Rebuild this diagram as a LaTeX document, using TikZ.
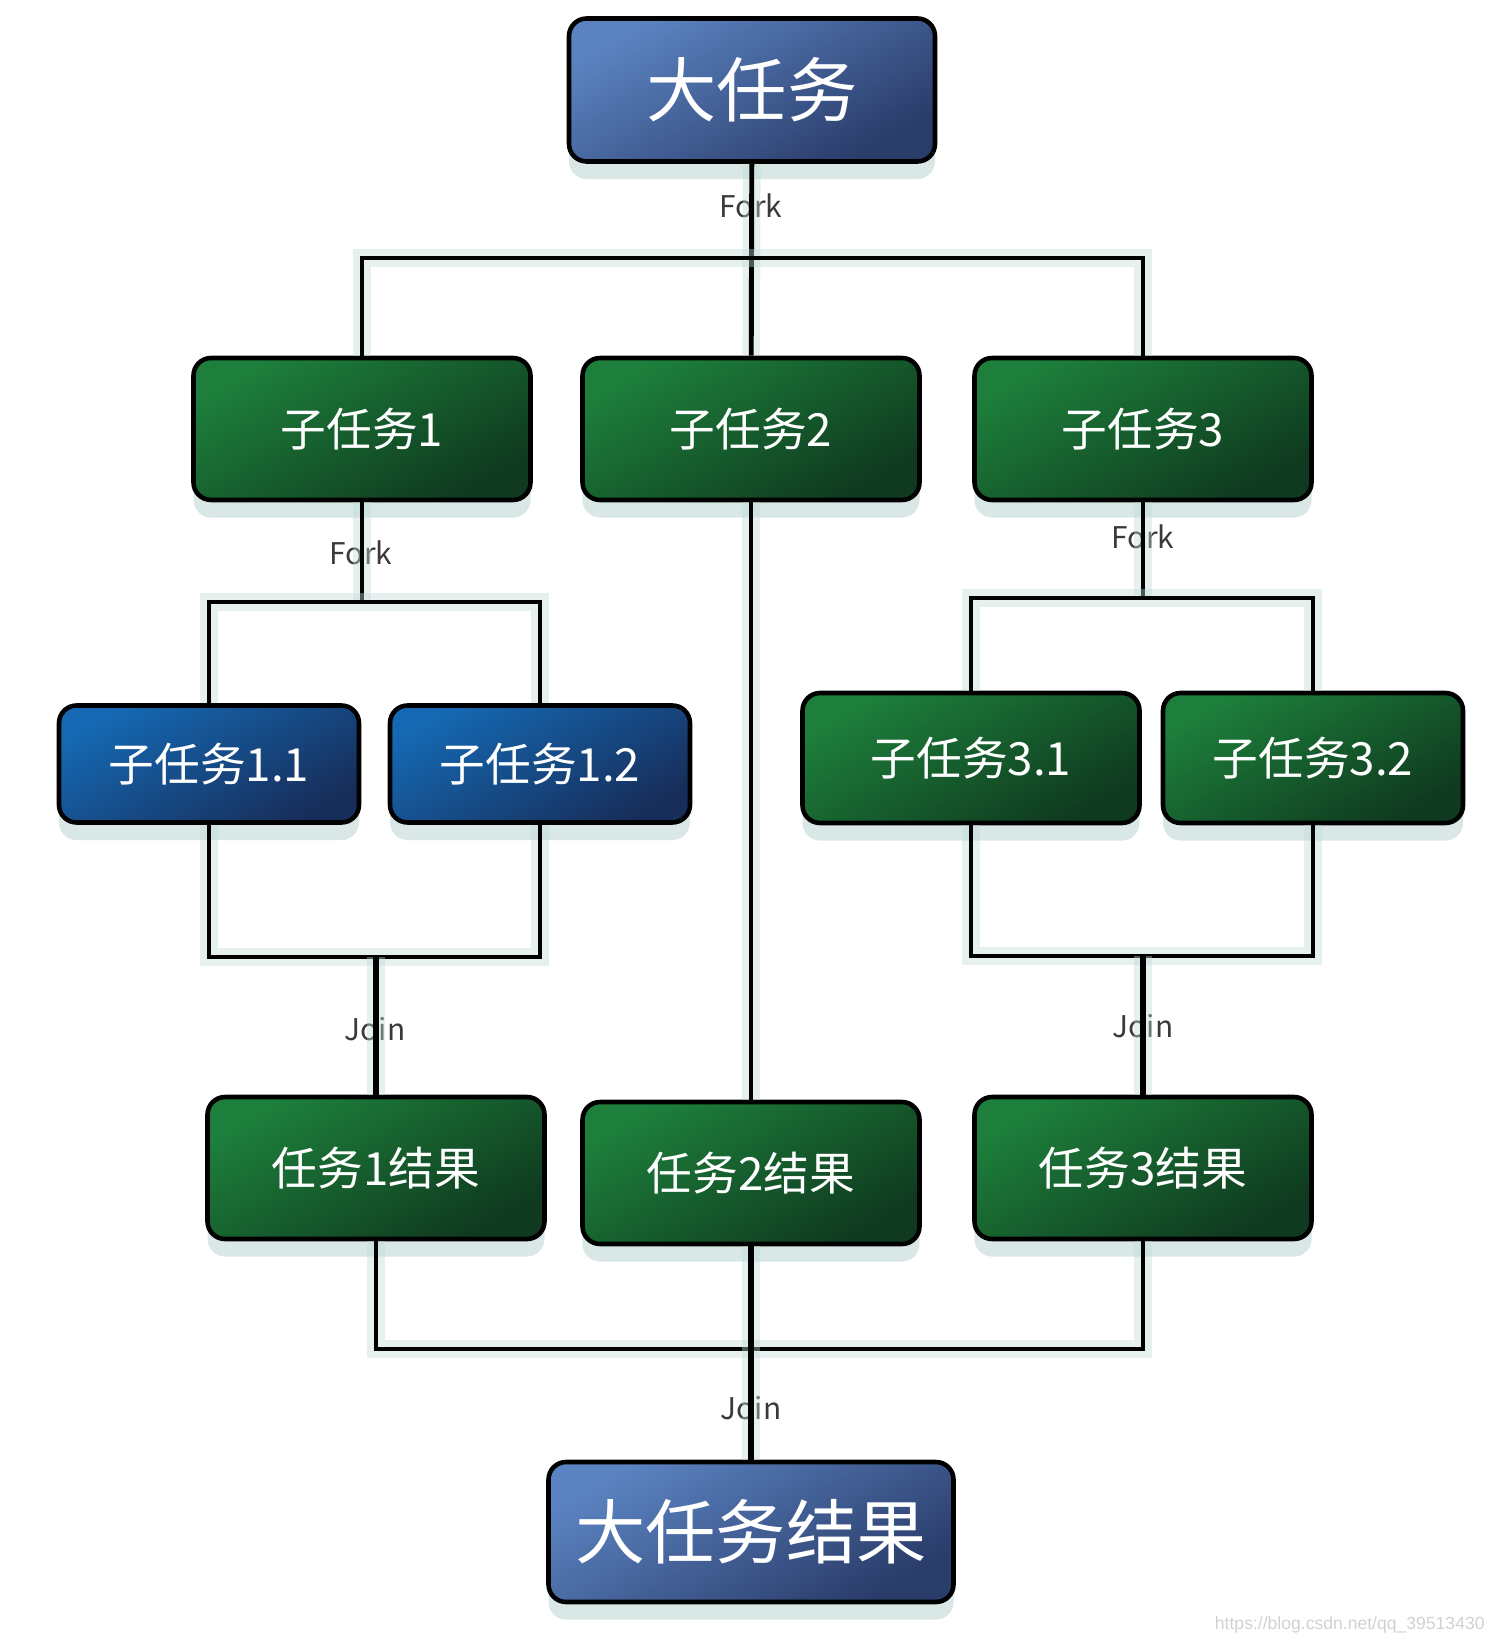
\documentclass[tikz,border=0pt]{standalone}
\usepackage{fontspec}
\setmainfont{Noto Sans CJK SC}
\newfontfamily\markfont{Liberation Sans}
\usepackage{xcolor}
\usepackage{tikz}
\usetikzlibrary{positioning,calc,shadows}
\definecolor{bigtop}{HTML}{5B83C1}
\definecolor{bigbot}{HTML}{2A3C6A}
\definecolor{subtop}{HTML}{1D7F3B}
\definecolor{subbot}{HTML}{0F3A1F}
\definecolor{deeptop}{HTML}{1568B2}
\definecolor{deepbot}{HTML}{172E5B}
\definecolor{glow}{HTML}{BFD9D6}
\definecolor{labelgray}{HTML}{3A3A3A}

\begin{document}
\begin{tikzpicture}[
  x=0.1mm, y=-0.1mm,
  line/.style={line width=1.4pt, draw=black, preaction={draw=glow, line width=5pt, opacity=.4}},
  box/.style={rounded corners=5pt, draw=black, line width=1.3pt, text=white, align=center,
    drop shadow={shadow xshift=0pt, shadow yshift=-5pt, fill=glow, opacity=.6}},
  bigbox/.style={box, top color=bigtop, bottom color=bigbot, shading angle=30, font=\fontsize{20}{24}\selectfont},
  subbox/.style={box, top color=subtop, bottom color=subbot, shading angle=30, minimum width=33.7mm, minimum height=14.2mm, font=\fontsize{13}{16}\selectfont},
  deepbox/.style={box, top color=deeptop, bottom color=deepbot, shading angle=30, minimum width=30mm, minimum height=11.7mm, font=\fontsize{13}{16}\selectfont},
  tag/.style={text=labelgray, font=\fontsize{8.5}{10}\selectfont, inner sep=1pt}
]
\useasboundingbox (0,0) rectangle (1508,1642);

% big task and first fork
\node[bigbox, minimum width=36.6mm, minimum height=14.3mm] (big) at (752,90) {大任务};
\node[subbox] (t1) at (362,429) {子任务1};
\node[subbox] (t2) at (751,429) {子任务2};
\node[subbox] (t3) at (1143,429) {子任务3};

% second level
\node[deepbox] (t11) at (209,764) {子任务1.1};
\node[deepbox] (t12) at (540,764) {子任务1.2};
\node[subbox, minimum height=13mm] (t31) at (971,758) {子任务3.1};
\node[subbox, minimum width=30mm, minimum height=13mm] (t32) at (1313,758) {子任务3.2};

% results
\node[subbox] (r1) at (376,1168) {任务1结果};
\node[subbox] (r2) at (751,1173) {任务2结果};
\node[subbox] (r3) at (1143,1168) {任务3结果};
\node[bigbox, minimum width=40.5mm, minimum height=14mm] (res) at (751,1532) {大任务结果};

% junctions
\coordinate (f0) at (751,258);
\coordinate (f1) at (362,602);
\coordinate (f3) at (1143,598);
\coordinate (j1) at (376,957);
\coordinate (j3) at (1143,956);
\coordinate (j0) at (751,1349);

% labels (lines go over them)
\node[tag] (fk0) at (751,206) {Fork};
\node[tag] (fk1) at (361,553) {Fork};
\node[tag] (fk3) at (1143,537) {Fork};
\node[tag] (jn1) at (375,1029) {Join};
\node[tag] (jn3) at (1143,1026) {Join};
\node[tag] (jn0) at (751,1408) {Join};

\draw[line] (big) -- (t2);
\draw[line] (t1) |- (f0) -| (t3);
\draw[line] (t1) -- (f1);
\draw[line] (t11) |- (f1) -| (t12);
\draw[line] (t3) -- (f3);
\draw[line] (t31) |- (f3) -| (t32);
\draw[line] (t11) |- (j1) -| (t12);
\draw[line, line width=1.9pt] (j1) -- (r1);
\draw[line] (t31) |- (j3) -| (t32);
\draw[line, line width=1.9pt] (j3) -- (r3);
\draw[line] (t2) -- (r2);
\draw[line] (r1) |- (j0) -| (r3);
\draw[line, line width=1.9pt] (r2) -- (res);

\node[text=black!18, font=\markfont\fontsize{5}{6}\selectfont, anchor=east] (mark) at (1497,1625) {https://blog.csdn.net/qq\_39513430};
\end{tikzpicture}
\end{document}
